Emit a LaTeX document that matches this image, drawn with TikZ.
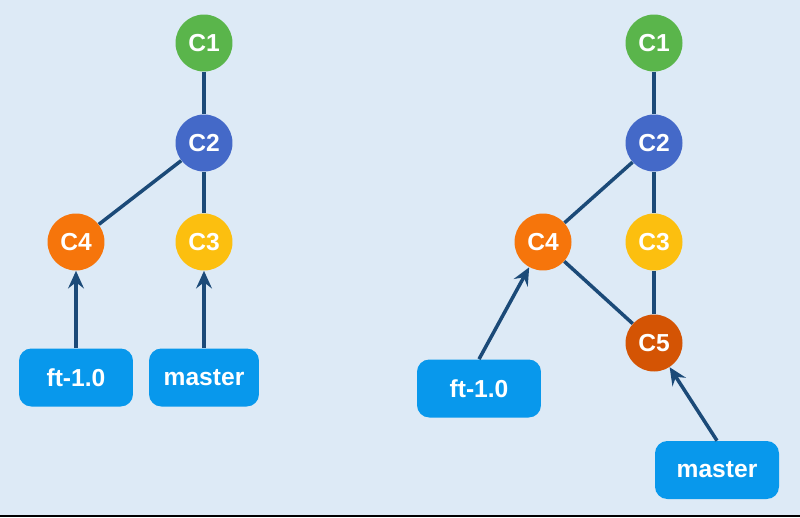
\documentclass[tikz,border=0pt]{standalone}
\usepackage{fontspec}
\setmainfont{Liberation Sans}
\usetikzlibrary{arrows.meta}
\definecolor{bgblue}{HTML}{DDEAF6}
\definecolor{cgreen}{HTML}{5AB54B}
\definecolor{cblue}{HTML}{4469C8}
\definecolor{corange}{HTML}{F6750B}
\definecolor{cyellow}{HTML}{FCBF0F}
\definecolor{cdark}{HTML}{D45404}
\definecolor{boxblue}{HTML}{0898EC}
\definecolor{linkblue}{HTML}{1B4A78}
\tikzset{
  commit/.style={circle, fill=#1, minimum size=1.14cm, inner sep=0pt,
    text=white, font=\bfseries\fontsize{14}{16}\selectfont},
  branch/.style={rectangle, rounded corners=7pt, fill=boxblue, text=white,
    minimum width=#1, minimum height=1.16cm, inner sep=0pt,
    font=\bfseries\fontsize{14}{16}\selectfont},
  link/.style={draw=linkblue, line width=2pt},
  pointer/.style={link, -{Stealth[length=10pt,width=9pt,inset=3.5pt]}}
}
\begin{document}
\begin{tikzpicture}[x=0.02cm,y=-0.02cm]
    \fill[bgblue] (0,0) rectangle (800,517);
    \fill[black] (0,514.5) rectangle (800,517);

    \node[commit=cgreen] (c1a) at (204,43) {C1};
    \node[commit=cblue] (c2a) at (204,143) {C2};
    \node[commit=corange] (c4a) at (76,242) {C4};
    \node[commit=cyellow] (c3a) at (204,242) {C3};
    \node[branch=2.28cm] (fta) at (76,377.5) {ft-1.0};
    \node[branch=2.2cm] (mastera) at (204,377.5) {master};

    \draw[link] (c1a) -- (c2a);
    \draw[link] (c2a) -- (c4a);
    \draw[link] (c2a) -- (c3a);
    \draw[pointer] (fta) -- (c4a);
    \draw[pointer] (mastera) -- (c3a);

    \node[commit=cgreen] (c1b) at (654,43) {C1};
    \node[commit=cblue] (c2b) at (654,143) {C2};
    \node[commit=corange] (c4b) at (543,242) {C4};
    \node[commit=cyellow] (c3b) at (654,242) {C3};
    \node[commit=cdark] (c5b) at (654,343) {C5};
    \node[branch=2.48cm] (ftb) at (479,388.5) {ft-1.0};
    \node[branch=2.48cm] (masterb) at (717,470) {master};

    \draw[link] (c1b) -- (c2b);
    \draw[link] (c2b) -- (c4b);
    \draw[link] (c2b) -- (c3b);
    \draw[link] (c3b) -- (c5b);
    \draw[link] (c4b) -- (c5b);
    \draw[pointer] (ftb.north) -- (c4b);
    \draw[pointer] (masterb.north) -- (c5b);
\end{tikzpicture}
\end{document}
